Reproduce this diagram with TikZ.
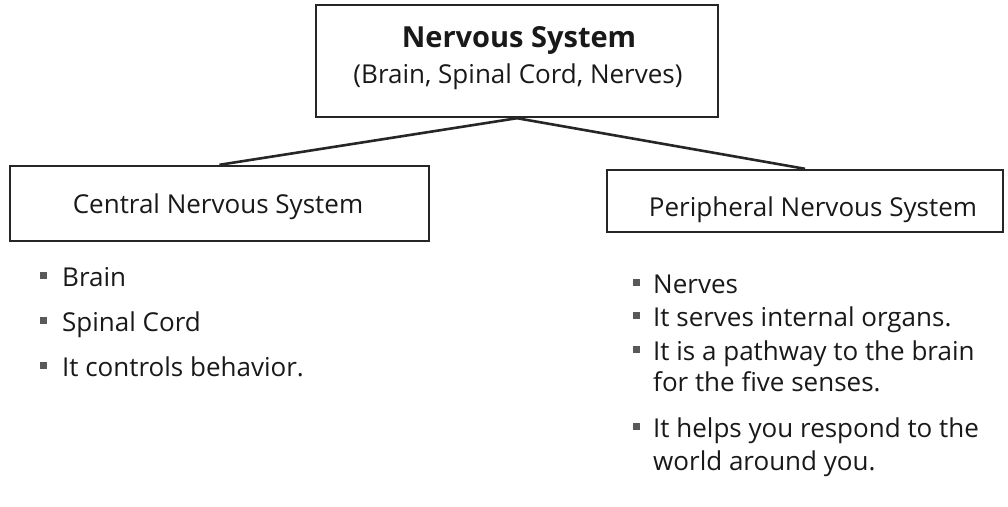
\documentclass[tikz,border=0pt]{standalone}
\usepackage{fontspec}
\setmainfont{Open Sans}
\begin{document}
\begin{tikzpicture}[x=1pt,y=-1pt,
  boxstyle/.style={draw=black!85, line width=2.4pt, rectangle, inner sep=0pt},
  conn/.style={draw=black!85, line width=2.6pt},
  body/.style={font=\fontsize{26}{32}\selectfont, inner sep=0pt, text=black!90},
  titletext/.style={font=\fontsize{29}{34}\selectfont\bfseries, inner sep=0pt, text=black!90},
  bulletmark/.style={fill=black!65, rectangle, minimum size=7pt, inner sep=0pt}]
\useasboundingbox (0,0) rectangle (1008,506);

% boxes
\node[boxstyle, minimum width=402pt, minimum height=112pt] (top) at (517,61) {};
\node[boxstyle, minimum width=419pt, minimum height=75pt] (cns) at (219.5,203.5) {};
\node[boxstyle, minimum width=396pt, minimum height=62pt] (pns) at (805,201) {};

% box texts
\node[titletext, anchor=base] (t1) at (519,47) {Nervous System};
\node[body, anchor=base] (t2) at (518,83) {(Brain, Spinal Cord, Nerves)};
\node[body, anchor=base] (c1) at (218,213) {Central Nervous System};
\node[body, anchor=base] (p1) at (813,216) {Peripheral Nervous System};

% connectors
\draw[conn] (top.south) -- (cns.north);
\draw[conn] (top.south) -- (pns.north);

% left list
\node[body, anchor=base west] (l1) at (62,286) {Brain};
\node[body, anchor=base west] (l2) at (62,331) {Spinal Cord};
\node[body, anchor=base west] (l3) at (62,376) {It controls behavior.};
\node[bulletmark] (lb1) at (43.5,275.5) {};
\node[bulletmark] (lb2) at (43.5,320.5) {};
\node[bulletmark] (lb3) at (43.5,365.5) {};

% right list
\node[body, anchor=base west] (r1) at (653,293) {Nerves};
\node[body, anchor=base west] (r2) at (653,326) {It serves internal organs.};
\node[body, anchor=base west] (r3) at (653,360) {It is a pathway to the brain};
\node[body, anchor=base west] (r3b) at (653,391) {for the five senses.};
\node[body, anchor=base west] (r4) at (653,437) {It helps you respond to the};
\node[body, anchor=base west] (r4b) at (653,470) {world around you.};
\node[bulletmark] (rb1) at (636,282.5) {};
\node[bulletmark] (rb2) at (636,315.5) {};
\node[bulletmark] (rb3) at (636,349.5) {};
\node[bulletmark] (rb4) at (636,426.5) {};
\end{tikzpicture}
\end{document}
